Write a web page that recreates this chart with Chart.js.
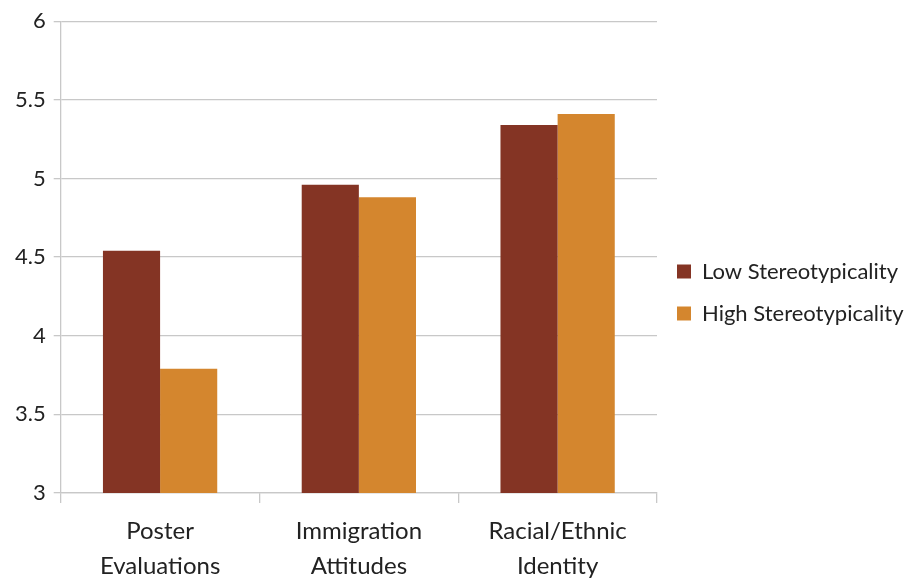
<!DOCTYPE html>
<html>
<head>
<meta charset="utf-8">
<script src="https://cdn.jsdelivr.net/npm/chart.js@4"></script>
<style>
  html, body { margin: 0; padding: 0; background: #fff; }
  #wrap { width: 915px; height: 578px; }
</style>
</head>
<body>
<div id="wrap"><canvas id="chart"></canvas></div>
<script>
const categories = [['Poster', 'Evaluations'], ['Immigration', 'Attitudes'], ['Racial/Ethnic', 'Identity']];
const lowValues = [4.54, 4.96, 5.34];
const highValues = [3.79, 4.88, 5.41];
const seriesNames = ['Low Stereotypicality', 'High Stereotypicality'];
const yTicks = [3, 3.5, 4, 4.5, 5, 5.5, 6];

const ctx = document.getElementById('chart').getContext('2d');

// legend box gets a fixed width so the plot ends where the reference does
const legendWidth = {
  id: 'legendWidth',
  afterInit(chart) {
    const lg = chart.legend;
    const fit = lg.fit.bind(lg);
    lg.fit = function () { fit(); this.width = 258; };
  }
};

new Chart(ctx, {
  type: 'bar',
  data: {
    labels: categories,
    datasets: [
      { label: seriesNames[0], data: lowValues, backgroundColor: '#843424', borderWidth: 0 },
      { label: seriesNames[1], data: highValues, backgroundColor: '#D4862E', borderWidth: 0 }
    ]
  },
  options: {
    responsive: true,
    maintainAspectRatio: false,
    animation: false,
    layout: { padding: { top: 7, left: 7, right: 0, bottom: 0 } },
    datasets: { bar: { barPercentage: 1, categoryPercentage: 0.575 } },
    plugins: {
      legend: {
        position: 'right',
        align: 'center',
        labels: {
          boxWidth: 14, boxHeight: 14, padding: 20,
          color: '#222',
          font: { family: 'Lato', size: 22 }
        }
      },
      tooltip: { enabled: false }
    },
    scales: {
      y: {
        min: 3, max: 6,
        afterBuildTicks(axis) { axis.ticks = yTicks.map(v => ({ value: v })); },
        ticks: {
          color: '#222', padding: 8, font: { family: 'Lato', size: 22 },
          callback: v => String(v)
        },
        grid: { color: '#c8c8c8', lineWidth: 1.3, tickLength: 7 },
        border: { color: '#c8c8c8', width: 1.3 }
      },
      x: {
        afterFit(scale) { scale.height = 85; },
        ticks: { color: '#222', padding: 11, font: { family: 'Lato', size: 24, lineHeight: 1.45 } },
        grid: { drawOnChartArea: false, offset: true, color: '#c8c8c8', lineWidth: 1.3, tickLength: 10 },
        border: { color: '#c8c8c8', width: 1.3 }
      }
    }
  },
  plugins: [legendWidth]
});
</script>
</body>
</html>
